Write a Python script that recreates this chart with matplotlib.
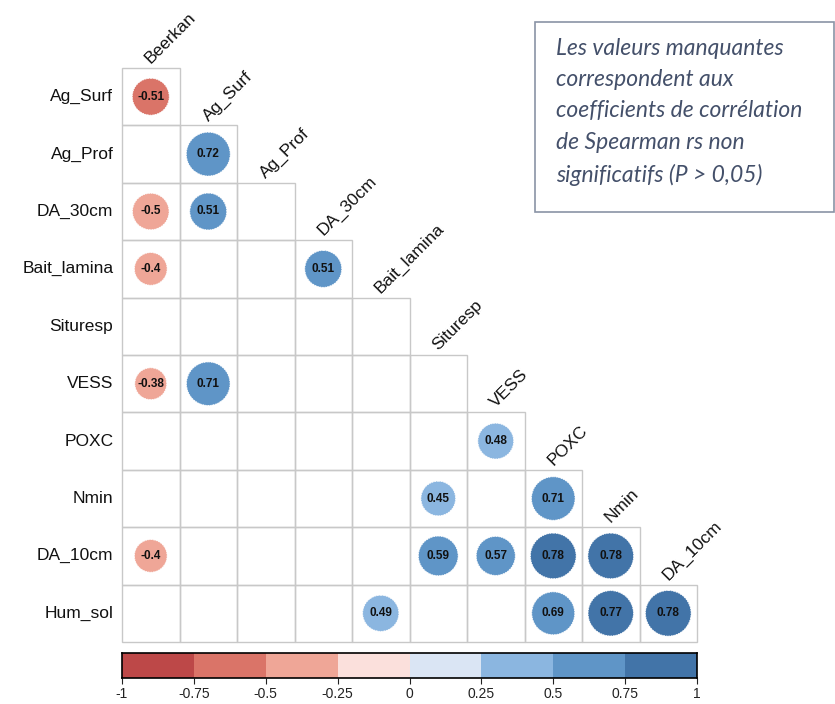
import numpy as np
import matplotlib.pyplot as plt
from matplotlib.patches import Circle, Rectangle
from matplotlib.colors import ListedColormap, BoundaryNorm

# ---- data --------------------------------------------------------------
row_names = ["Ag_Surf", "Ag_Prof", "DA_30cm", "Bait_lamina", "Situresp",
             "VESS", "POXC", "Nmin", "DA_10cm", "Hum_sol"]
col_names = ["Beerkan", "Ag_Surf", "Ag_Prof", "DA_30cm", "Bait_lamina",
             "Situresp", "VESS", "POXC", "Nmin", "DA_10cm"]

# significant Spearman coefficients: (row, column, value)
sig_rows = ["Ag_Surf", "Ag_Prof", "DA_30cm", "DA_30cm", "Bait_lamina", "Bait_lamina",
            "VESS", "VESS", "POXC", "Nmin", "Nmin",
            "DA_10cm", "DA_10cm", "DA_10cm", "DA_10cm", "DA_10cm",
            "Hum_sol", "Hum_sol", "Hum_sol", "Hum_sol"]
sig_cols = ["Beerkan", "Ag_Surf", "Beerkan", "Ag_Surf", "Beerkan", "DA_30cm",
            "Beerkan", "Ag_Surf", "VESS", "Situresp", "POXC",
            "Beerkan", "Situresp", "VESS", "POXC", "Nmin",
            "Bait_lamina", "POXC", "Nmin", "DA_10cm"]
sig_vals = [-0.51, 0.72, -0.5, 0.51, -0.4, 0.51,
            -0.38, 0.71, 0.48, 0.45, 0.71,
            -0.4, 0.59, 0.57, 0.78, 0.78,
            0.49, 0.69, 0.77, 0.78]

bin_colors = ["#BD4848", "#DA7468", "#EFA697", "#FBE0DC",
              "#DAE5F4", "#8BB6E0", "#5F95C7", "#4274A8"]
bounds = np.linspace(-1, 1, 9)
tick_labels = ["-1", "-0.75", "-0.5", "-0.25", "0", "0.25", "0.5", "0.75", "1"]

note = ("Les valeurs manquantes\ncorrespondent aux\ncoefficients de corrélation\n"
        "de Spearman rs non\nsignificatifs (P > 0,05)")

# ---- figure ------------------------------------------------------------
plt.rcParams['font.family'] = ['Liberation Sans', 'DejaVu Sans']
W, H = 835, 704
fig = plt.figure(figsize=(W / 100, H / 100), dpi=100)

def px_axes(x0, y0, x1, y1):
    return fig.add_axes([x0 / W, 1 - y1 / H, (x1 - x0) / W, (y1 - y0) / H])

cmap = ListedColormap(bin_colors)
norm = BoundaryNorm(bounds, cmap.N)

ax = px_axes(122, 68, 697, 642)
ax.set_xlim(0, 10)
ax.set_ylim(10, 0)
ax.axis('off')

n = len(row_names)
grid_c = "#C8C8C8"
for i in range(n):
    for j in range(i + 1):
        ax.add_patch(Rectangle((j, i), 1, 1, fill=False, edgecolor=grid_c, lw=1.0,
                               clip_on=False))

for r, c, v in zip(sig_rows, sig_cols, sig_vals):
    i = row_names.index(r)
    j = col_names.index(c)
    rad = 0.9 * np.sqrt(abs(v)) / 2
    ax.add_patch(Circle((j + 0.5, i + 0.5), rad, facecolor=cmap(norm(v)),
                        edgecolor='white', lw=0.6, linestyle=(0, (2, 1)), zorder=3))
    ax.text(j + 0.5, i + 0.5, f"{v:g}", ha='center', va='center',
            fontsize=8.5, fontweight='bold', color='#111111', zorder=4)

for i, name in enumerate(row_names):
    ax.text(-0.15, i + 0.5, name, ha='right', va='center', fontsize=12.5,
            color='#111111')

for j, name in enumerate(col_names):
    ax.text(j + 0.5, j - 0.07, name, ha='left', va='baseline', rotation=45,
            rotation_mode='anchor', fontsize=12.5, color='#111111')

# ---- colour bar --------------------------------------------------------
cax = px_axes(122, 653, 697, 678)
for k in range(len(bin_colors)):
    cax.add_patch(Rectangle((bounds[k], 0), bounds[k + 1] - bounds[k], 1,
                            facecolor=bin_colors[k], edgecolor='none'))
cax.set_xlim(-1, 1)
cax.set_ylim(0, 1)
cax.set_yticks([])
cax.set_xticks(bounds)
cax.set_xticklabels(tick_labels, fontsize=10)
cax.tick_params(axis='x', length=4, width=0.8, pad=2.5, colors='#222222')
for s in cax.spines.values():
    s.set_linewidth(1.2)
    s.set_color('black')

# ---- note box ----------------------------------------------------------
fig.patches.append(Rectangle((535 / W, 1 - 212 / H), 299 / W, 190 / H,
                             transform=fig.transFigure, fill=False,
                             edgecolor='#8A94A6', lw=1.2))
fig.text(556 / W, 1 - 38 / H, note, ha='left', va='top', family=['Lato', 'DejaVu Sans'],
         style='italic', fontsize=16.5, color='#44506A', linespacing=1.6)

fig.savefig("out.png", dpi=100)
